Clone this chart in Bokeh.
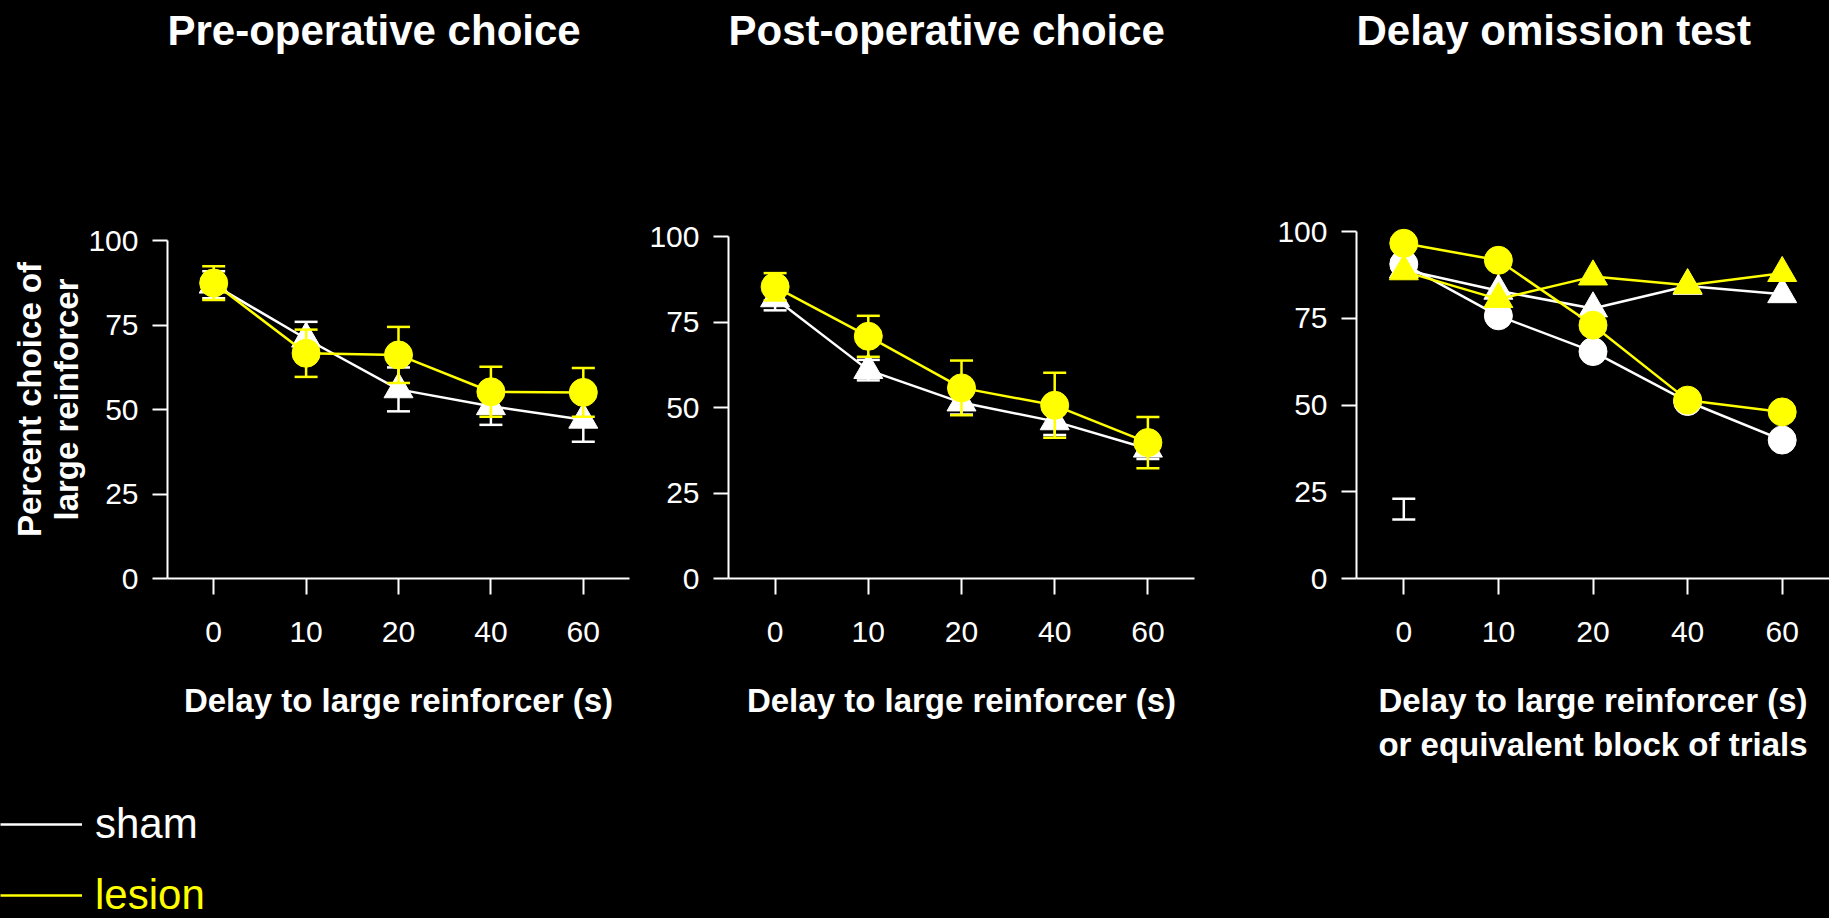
import numpy as np
from bokeh.plotting import figure
from bokeh.models import (ColumnDataSource, Whisker, TeeHead, FixedTicker, Range1d,
                          Legend, LegendItem, Title)
from bokeh.layouts import row, column
from bokeh.embed import file_html
from bokeh.resources import INLINE

# ---------------- data ----------------
delay_labels = ["0", "10", "20", "40", "60"]
positions = [0, 1, 2, 3, 4]

pre_sham = [87, 71, 56, 51, 47]
pre_sham_err = [4, 5, 6.5, 5.5, 6.5]
pre_lesion = [87.5, 66.7, 66.2, 55.3, 55.1]
pre_lesion_err = [5, 7, 8.3, 7.4, 7.2]

post_sham = [82, 61, 51.5, 46, 38]
post_sham_err = [3.5, 3, 3.5, 4, 3]
post_lesion = [85.4, 70.9, 55.8, 50.7, 39.8]
post_lesion_err = [4, 6, 8, 9.5, 7.5]

omit_sham_delay = [90.6, 75.7, 65.4, 51, 39.9]
omit_sham_omission = [89, 82.9, 77.8, 84.3, 81.9]
omit_lesion_delay = [96.6, 91.7, 73, 51.4, 48]
omit_lesion_omission = [88.5, 80.5, 87, 84.5, 88]
sem_bar_x = [0]
sem_bar_center = [20]
sem_bar_half = [3]

groups = ["sham", "lesion"]
titles = ["Pre-operative choice", "Post-operative choice", "Delay omission test"]
x_label = "Delay to large reinforcer (s)"
x_label_omission = "Delay to large reinforcer (s)\nor equivalent block of trials"
y_label = "Percent choice of\nlarge reinforcer"
y_ticks = [0, 25, 50, 75, 100]

# ---------------- style ----------------
WHITE = "#FFFFFF"
YELLOW = "#FFFF00"
FONT = "Liberation Sans"
LW = 2.5
ROW_H = 780
TOP = 220
BOTTOM = ROW_H - 578


def make_fig(width, y_end, left, right, title, xlab, ylab=None):
    p = figure(width=width, height=ROW_H, x_range=Range1d(-0.5, 4.5),
               y_range=Range1d(0, y_end), output_backend="svg", toolbar_location=None,
               min_border_left=left, min_border_right=right,
               min_border_top=TOP, min_border_bottom=BOTTOM,
               background_fill_color="black", border_fill_color="black",
               outline_line_color=None)
    # invisible spacer keeps the title near the top of the figure
    p.add_layout(Title(text=" ", text_font_size="1px", standoff=164,
                       text_color="black"), "above")
    p.title = Title(text=title, align="left", text_font=FONT, text_font_size="42px",
                    text_font_style="bold", text_color=WHITE, standoff=0)
    p.xgrid.visible = False
    p.ygrid.visible = False
    for ax in (p.xaxis[0], p.yaxis[0]):
        ax.axis_line_color = WHITE
        ax.axis_line_width = 2
        ax.major_tick_line_color = WHITE
        ax.major_tick_line_width = 2
        ax.major_tick_in = 0
        ax.minor_tick_line_color = None
        ax.major_label_text_color = WHITE
        ax.major_label_text_font = FONT
        ax.major_label_text_font_size = "30px"
        ax.axis_label_text_color = WHITE
        ax.axis_label_text_font = FONT
        ax.axis_label_text_font_size = "33px"
        ax.axis_label_text_font_style = "bold"
    p.yaxis.ticker = FixedTicker(ticks=y_ticks)
    p.yaxis.bounds = (0, 100)
    p.yaxis.major_tick_out = 15
    p.yaxis.major_label_standoff = 14
    p.xaxis.ticker = FixedTicker(ticks=positions)
    p.xaxis.major_label_overrides = {pos: lab for pos, lab in zip(positions, delay_labels)}
    p.xaxis.major_tick_out = 16
    p.xaxis.major_label_standoff = 27
    p.xaxis.axis_label = xlab
    p.xaxis.axis_label_standoff = 37
    p.xaxis.axis_label_text_line_height = 1.2
    if ylab:
        p.yaxis.axis_label = ylab
        p.yaxis.axis_label_standoff = 0
        p.yaxis.axis_label_text_line_height = 1.0
    return p


def add_whisker(p, xs, centers, halves, color):
    src = ColumnDataSource(dict(x=xs,
                                upper=[c + h for c, h in zip(centers, halves)],
                                lower=[c - h for c, h in zip(centers, halves)]))
    w = Whisker(source=src, base="x", upper="upper", lower="lower",
                line_color=color, line_width=LW, level="glyph",
                upper_head=TeeHead(size=23, line_color=color, line_width=LW),
                lower_head=TeeHead(size=23, line_color=color, line_width=LW))
    p.renderers.append(w)


def add_series(p, ys, color, marker, errs=None):
    if errs is not None:
        add_whisker(p, positions, ys, errs, color)
    src = ColumnDataSource(dict(x=positions, y=ys))
    ln = p.line("x", "y", source=src, line_color=color, line_width=LW)
    size = 29 if marker == "triangle" else 28
    p.scatter("x", "y", source=src, marker=marker, size=size,
              fill_color=color, line_color=color)
    return ln


# panel 1 (frame 167..629, 3.377 px per %)
p1 = make_fig(640, 358 / 3.377, 167, 11, titles[0], x_label, y_label)
add_series(p1, pre_sham, WHITE, "triangle", pre_sham_err)
add_series(p1, pre_lesion, YELLOW, "circle", pre_lesion_err)

# panel 2 (frame 728..1194, 3.416 px per %)
p2 = make_fig(620, 358 / 3.416, 88, 66, titles[1], x_label)
add_series(p2, post_sham, WHITE, "triangle", post_sham_err)
add_series(p2, post_lesion, YELLOW, "circle", post_lesion_err)

# panel 3 (frame 1356..1829, 3.47 px per %)
p3 = make_fig(569, 358 / 3.47, 96, 0, titles[2], x_label_omission)
add_whisker(p3, sem_bar_x, sem_bar_center, sem_bar_half, WHITE)
add_series(p3, omit_sham_delay, WHITE, "circle")
add_series(p3, omit_sham_omission, WHITE, "triangle")
add_series(p3, omit_lesion_delay, YELLOW, "circle")
add_series(p3, omit_lesion_omission, YELLOW, "triangle")

# legend strip
LEG_H = 138
pl = figure(width=1829, height=LEG_H, x_range=Range1d(0, 1), y_range=Range1d(0, 1),
            output_backend="svg", toolbar_location=None,
            x_axis_location=None, y_axis_location=None,
            min_border=0, min_border_left=0, min_border_right=0,
            min_border_top=0, min_border_bottom=0,
            background_fill_color="black", border_fill_color="black",
            outline_line_color=None)
pl.xgrid.visible = False
pl.ygrid.visible = False
legend_kw = dict(glyph_width=82, glyph_height=40, label_height=40, label_standoff=13,
                 label_text_font=FONT, label_text_font_size="42px", padding=0, margin=0,
                 border_line_color=None, background_fill_alpha=0, spacing=0,
                 label_text_baseline="middle")
centers = [44, 115]  # item centres, px from the strip top
for grp, col, cy in zip(groups, [WHITE, YELLOW], centers):
    # legend key only: a placeholder line with no drawable point
    r = pl.line(x=[np.nan], y=[np.nan], line_color=col, line_width=LW)
    leg = Legend(items=[LegendItem(label=grp, renderers=[r])],
                 location=(0, LEG_H - cy - 24), label_text_color=col, **legend_kw)
    pl.add_layout(leg)

top_row = row(p1, p2, p3)
top_row.styles = {"background-color": "black"}
layout = column(top_row, pl)
layout.styles = {"background-color": "black"}

html = file_html(layout, INLINE)
html = html.replace("</head>", "<style>html, body { background: #000; }</style></head>")
open("out.html", "w").write(html)
